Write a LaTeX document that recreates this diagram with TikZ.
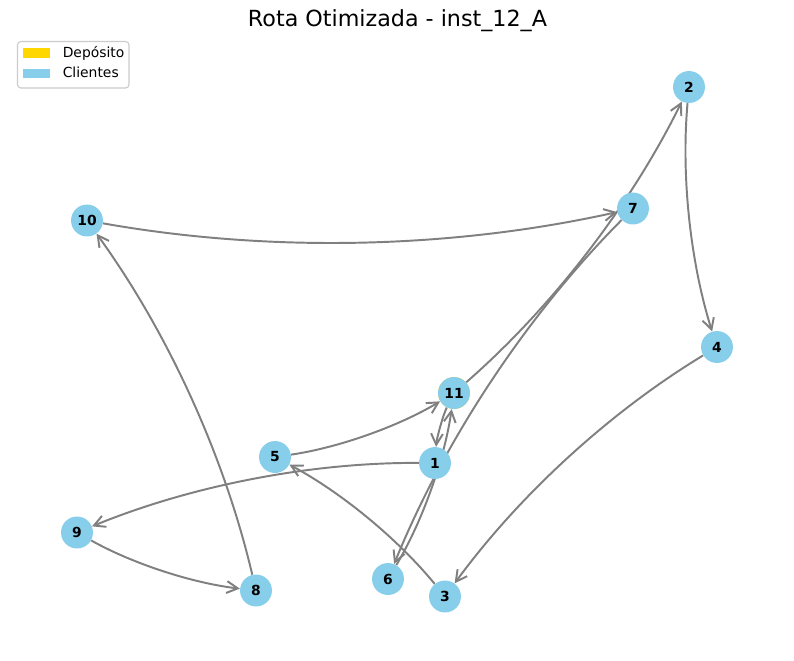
\documentclass[tikz,border=0pt]{standalone}
\usepackage{fontspec}
\setmainfont{DejaVu Sans}
\usetikzlibrary{calc,arrows.meta}
\definecolor{skyblue}{HTML}{87CEEB}
\definecolor{gold}{HTML}{FFD700}
\definecolor{edgegray}{HTML}{808080}
\definecolor{legframe}{HTML}{CCCCCC}
\pgfdeclarelayer{bg}
\pgfdeclarelayer{edges}
\pgfsetlayers{bg,edges,main}
\newcommand{\arcedge}[2]{%
  \coordinate (m) at ($(#1)!0.5!(#2)$);
  \coordinate (q) at ($(m)!0.2!-90:(#2)$);
  \draw[edge] (#1) .. controls ($(#1)!0.6667!(q)$) and ($(#2)!0.6667!(q)$) .. (#2);}
\tikzset{
  cust/.style={circle, fill=skyblue, minimum size=23pt, inner sep=0pt,
    font=\fontsize{10}{12}\selectfont\bfseries},
  dep/.style={cust, fill=gold},
  edge/.style={draw=edgegray, line width=1.4pt, -{Straight Barb[length=8pt,width=8.5pt]}},
  legtext/.style={anchor=base west, inner sep=0pt, font=\fontsize{10}{12}\selectfont},
  legpatch/.style={inner sep=0pt, minimum width=27.5*0.72pt, minimum height=9.5*0.72pt}
}
\begin{document}
\begin{tikzpicture}[x=0.72pt, y=-0.72pt]
\useasboundingbox (0,0) rectangle (794,660);
\begin{pgfonlayer}{bg}
\fill[white] (0,0) rectangle (794,660);
\end{pgfonlayer}
% title
\node[anchor=base, inner sep=0pt, font=\fontsize{16}{19}\selectfont] (title) at (397.5,26) {Rota Otimizada - inst\_12\_A};
% nodes
\node[dep] (dep) at (454,393) {};
\node[cust] (n11) at (454,393) {11};
\node[cust] (n1) at (435,463) {1};
\node[cust] (n2) at (689,87) {2};
\node[cust] (n3) at (445,596.5) {3};
\node[cust] (n4) at (717,347) {4};
\node[cust] (n5) at (275,457) {5};
\node[cust] (n6) at (388,579) {6};
\node[cust] (n7) at (633,208.5) {7};
\node[cust] (n8) at (256,590.5) {8};
\node[cust] (n9) at (77,532.5) {9};
\node[cust] (n10) at (87,220.5) {10};
% edges (under the nodes)
\begin{pgfonlayer}{edges}
\arcedge{dep}{n2}
\arcedge{n2}{n4}
\arcedge{n4}{n3}
\arcedge{n3}{n5}
\arcedge{n5}{n11}
\arcedge{n11}{n1}
\arcedge{n1}{n9}
\arcedge{n9}{n8}
\arcedge{n8}{n10}
\arcedge{n10}{n7}
\arcedge{n7}{n6}
\arcedge{n6}{dep}
\end{pgfonlayer}
% legend
\draw[legframe, fill=white, fill opacity=0.8, line width=0.8pt, rounded corners=2.5pt] (17.5,41.5) rectangle (129,88) node[pos=0.5, inner sep=0pt] (legbox) {};
\node[legpatch, fill=gold] (legdep) at (36.5,53) {};
\node[legpatch, fill=skyblue] (legcli) at (36.5,73.7) {};
\node[legtext] (legdeptext) at (62.5,57.2) {Depósito};
\node[legtext] (legclitext) at (62.5,77.9) {Clientes};
\end{tikzpicture}
\end{document}
